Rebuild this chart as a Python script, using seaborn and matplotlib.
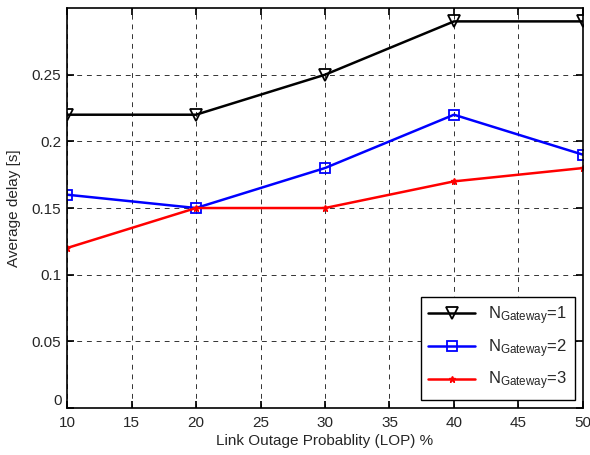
import pandas as pd
import matplotlib.pyplot as plt
import seaborn as sns

# data
lop = [10, 20, 30, 40, 50]
delay_gw1 = [0.22, 0.22, 0.25, 0.29, 0.29]
delay_gw2 = [0.16, 0.15, 0.18, 0.22, 0.19]
delay_gw3 = [0.12, 0.15, 0.15, 0.17, 0.18]
labels = ['N$_{\\mathrm{Gateway}}$=1', 'N$_{\\mathrm{Gateway}}$=2', 'N$_{\\mathrm{Gateway}}$=3']

sns.set_theme(style='white')
plt.rcParams['font.family'] = ['Liberation Sans', 'DejaVu Sans']
plt.rcParams['mathtext.fontset'] = 'custom'
plt.rcParams['mathtext.rm'] = 'Liberation Sans'
plt.rcParams['mathtext.it'] = 'Liberation Sans'

fig = plt.figure(figsize=(5.9, 4.55), dpi=100)
ax = fig.add_axes([0.1136, 0.1033, 0.8745, 0.879])

styles = [
    dict(color='black', marker='v', markerfacecolor='none', markeredgecolor='black', markersize=8, markeredgewidth=1.3),
    dict(color='blue', marker='s', markerfacecolor='none', markeredgecolor='blue', markersize=7, markeredgewidth=1.3),
    dict(color='red', marker='*', markerfacecolor='red', markeredgecolor='red', markersize=5, markeredgewidth=1),
]
for vals, lab, st in zip([delay_gw1, delay_gw2, delay_gw3], labels, styles):
    df = pd.DataFrame({'lop': lop, 'delay': vals})
    sns.lineplot(data=df, x='lop', y='delay', ax=ax, label=lab, linewidth=1.8, **st)

ax.set_xlim(10, 50)
ax.set_ylim(0, 0.3)
ax.set_xticks(range(10, 51, 5))
ax.set_yticks([0, 0.05, 0.1, 0.15, 0.2, 0.25])
ax.set_yticklabels(['0', '0.05', '0.1', '0.15', '0.2', '0.25'])
ax.grid(True, color='#333333', linestyle=(0, (5, 5)), linewidth=0.7)
for s in ax.spines.values():
    s.set_color('black')
    s.set_linewidth(1.2)
ax.tick_params(direction='in', length=5, color='black', labelsize=11, top=True, right=True,
               bottom=True, left=True)
ax.tick_params(axis='x', pad=6)
ax.tick_params(axis='y', pad=4)
# MATLAB puts the y "0" label a bit above the corner
ax.get_yticklabels()[0].set_verticalalignment('bottom')
ax.set_xlabel('Link Outage Probablity (LOP) %', fontsize=11, labelpad=3)
ax.set_ylabel('Average delay [s]', fontsize=11, labelpad=8)

leg = ax.legend(loc='lower right', fontsize=12, frameon=True, fancybox=False,
                edgecolor='black', framealpha=1, borderaxespad=0.5, handlelength=2.8,
                labelspacing=0.6, borderpad=0.45)
leg.get_frame().set_linewidth(1)

fig.savefig('out.png', dpi=100)
